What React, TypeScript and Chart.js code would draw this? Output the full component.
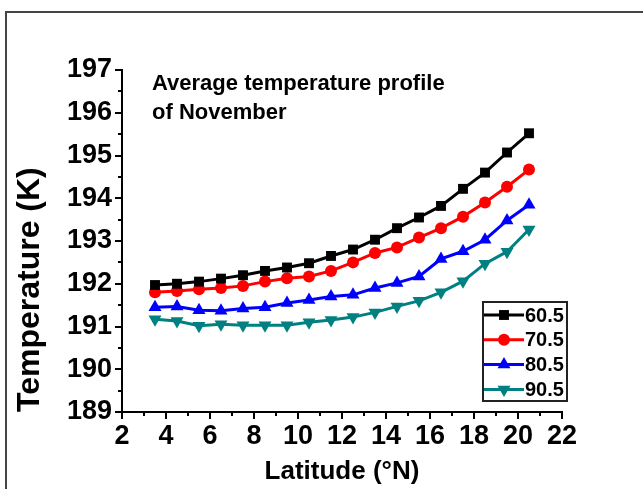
import React, { useEffect, useRef } from 'react';
import { Chart, registerables } from 'chart.js';

Chart.register(...registerables);

const latitude = [3.5, 4.5, 5.5, 6.5, 7.5, 8.5, 9.5, 10.5, 11.5, 12.5, 13.5, 14.5, 15.5, 16.5, 17.5, 18.5, 19.5, 20.5];
const temp605 = [191.97, 192.0, 192.05, 192.12, 192.2, 192.3, 192.38, 192.48, 192.65, 192.8, 193.03, 193.3, 193.55, 193.82, 194.22, 194.6, 195.07, 195.52];
const temp705 = [191.8, 191.83, 191.87, 191.9, 191.95, 192.05, 192.13, 192.17, 192.3, 192.5, 192.72, 192.85, 193.08, 193.3, 193.57, 193.9, 194.27, 194.67];
const temp805 = [191.45, 191.47, 191.38, 191.37, 191.42, 191.45, 191.55, 191.62, 191.7, 191.74, 191.9, 192.02, 192.17, 192.58, 192.76, 193.03, 193.48, 193.85];
const temp905 = [191.17, 191.13, 191.02, 191.05, 191.03, 191.03, 191.03, 191.1, 191.15, 191.22, 191.33, 191.47, 191.6, 191.8, 192.06, 192.47, 192.75, 193.27];

const seriesNames = ['60.5', '70.5', '80.5', '90.5'];
const seriesColors = ['#000000', '#ff0000', '#0000ff', '#008080'];
const seriesMarkers = ['rect', 'circle', 'triangle', 'triangle'];
const seriesRotation = [0, 0, 0, 180];
const seriesRadius = [7, 6, 7.5, 7.5];

const xMin = 2, xMax = 22, xStep = 2;
const yMin = 189, yMax = 197, yStep = 1;
const insideTitle = ['Average temperature profile', 'of November'];
const xTitle = 'Latitude (\u00B0N)';
const yTitle = 'Temperature (K)';

const SANS = '"Liberation Sans", Arial, sans-serif';

function drawMarker(ctx: CanvasRenderingContext2D, style: string, x: number, y: number, r: number, rotDeg: number) {
  ctx.beginPath();
  if (style === 'rect') {
    const s = Math.SQRT1_2 * r;
    ctx.rect(x - s, y - s, 2 * s, 2 * s);
  } else if (style === 'circle') {
    ctx.arc(x, y, r, 0, Math.PI * 2);
  } else {
    let rad = (rotDeg * Math.PI) / 180;
    ctx.moveTo(x + Math.sin(rad) * r, y - Math.cos(rad) * r);
    rad += (2 * Math.PI) / 3;
    ctx.lineTo(x + Math.sin(rad) * r, y - Math.cos(rad) * r);
    rad += (2 * Math.PI) / 3;
    ctx.lineTo(x + Math.sin(rad) * r, y - Math.cos(rad) * r);
    ctx.closePath();
  }
  ctx.fill();
}

const extrasPlugin = {
  id: 'extras',
  afterDraw(chart: any) {
    const { ctx, chartArea, scales } = chart;
    const x = scales.x;
    const y = scales.y;
    ctx.save();
    // minor ticks
    ctx.strokeStyle = '#000';
    ctx.lineWidth = 2;
    for (let v = xMin + xStep / 2; v < xMax; v += xStep) {
      const px = Math.round(x.getPixelForValue(v));
      ctx.beginPath();
      ctx.moveTo(px, chartArea.bottom);
      ctx.lineTo(px, chartArea.bottom + 4);
      ctx.stroke();
    }
    for (let v = yMin + yStep / 2; v < yMax; v += yStep) {
      const py = Math.round(y.getPixelForValue(v));
      ctx.beginPath();
      ctx.moveTo(chartArea.left, py);
      ctx.lineTo(chartArea.left - 4, py);
      ctx.stroke();
    }
    // inside title
    ctx.fillStyle = '#000';
    ctx.font = `bold 22px ${SANS}`;
    ctx.textBaseline = 'alphabetic';
    ctx.textAlign = 'left';
    insideTitle.forEach((line, i) => {
      ctx.fillText(line, chartArea.left + 30, chartArea.top + 20 + i * 29);
    });
    // legend
    const bx = chartArea.right - 79;
    const by = chartArea.bottom - 110;
    const bw = 84;
    const bh = 99;
    ctx.strokeStyle = '#222';
    ctx.lineWidth = 2;
    ctx.strokeRect(bx, by, bw, bh);
    ctx.font = `bold 20px ${SANS}`;
    ctx.textBaseline = 'middle';
    seriesNames.forEach((name, i) => {
      const ry = by + 13 + i * 24.8;
      ctx.strokeStyle = seriesColors[i];
      ctx.fillStyle = seriesColors[i];
      ctx.lineWidth = 3;
      ctx.beginPath();
      ctx.moveTo(bx + 1, ry);
      ctx.lineTo(bx + 41, ry);
      ctx.stroke();
      drawMarker(ctx, seriesMarkers[i], bx + 21, ry, seriesRadius[i], seriesRotation[i]);
      ctx.fillStyle = '#000';
      ctx.fillText(name, bx + 42, ry + 1);
    });
    ctx.restore();
  },
};

export default function App() {
  const ref = useRef<HTMLCanvasElement>(null);
  useEffect(() => {
    if (!ref.current) return;
    const seriesValues = [temp605, temp705, temp805, temp905];
    const chart = new Chart(ref.current, {
      type: 'line',
      data: {
        datasets: seriesValues.map((vals, i) => ({
          label: seriesNames[i],
          data: vals.map((v, j) => ({ x: latitude[j], y: v })),
          borderColor: seriesColors[i],
          backgroundColor: seriesColors[i],
          pointBackgroundColor: seriesColors[i],
          pointBorderColor: seriesColors[i],
          pointBorderWidth: 0,
          pointStyle: seriesMarkers[i] as any,
          pointRotation: seriesRotation[i],
          pointRadius: seriesRadius[i],
          borderWidth: 3,
          tension: 0,
          fill: false,
        })),
      },
      options: {
        animation: false,
        responsive: false,
        devicePixelRatio: 1,
        layout: { padding: { top: 70, right: 81, left: 0, bottom: 0 } },
        plugins: { legend: { display: false }, tooltip: { enabled: false }, title: { display: false } },
        scales: {
          x: {
            type: 'linear',
            min: xMin,
            max: xMax,
            afterFit: (s: any) => { s.height = 77; },
            border: { display: true, color: '#000', width: 2 },
            grid: { display: true, drawOnChartArea: false, drawTicks: true, tickLength: 7, color: '#000', lineWidth: 2 },
            ticks: { stepSize: xStep, autoSkip: false, maxRotation: 0, color: '#000', padding: 1, font: { family: SANS, size: 27, weight: 'bold' } },
            title: { display: true, text: xTitle, color: '#000', font: { family: SANS, size: 26, weight: 'bold' }, padding: { top: 0, bottom: 2 } },
          },
          y: {
            type: 'linear',
            min: yMin,
            max: yMax,
            afterFit: (s: any) => { s.width = 122; },
            border: { display: true, color: '#000', width: 2 },
            grid: { display: true, drawOnChartArea: false, drawTicks: true, tickLength: 7, color: '#000', lineWidth: 2 },
            ticks: { stepSize: yStep, color: '#000', padding: 3, font: { family: SANS, size: 27, weight: 'bold' } },
            title: { display: true, text: yTitle, align: 'start', color: '#000', font: { family: SANS, size: 32, weight: 'bold' }, padding: { top: 11, bottom: 0 } },
          },
        },
      },
      plugins: [extrasPlugin],
    } as any);
    return () => chart.destroy();
  }, []);

  return (
    <div style={{ position: 'fixed', left: 0, top: 0, width: 643, height: 489, background: '#fff', overflow: 'hidden' }}>
      <div style={{ position: 'absolute', left: 5, top: 11, right: -5, bottom: -5, borderTop: '2px solid #444', borderLeft: '2px solid #444' }} />
      <canvas ref={ref} width={643} height={489} style={{ position: 'absolute', left: 0, top: 0, width: 643, height: 489 }} />
    </div>
  );
}
